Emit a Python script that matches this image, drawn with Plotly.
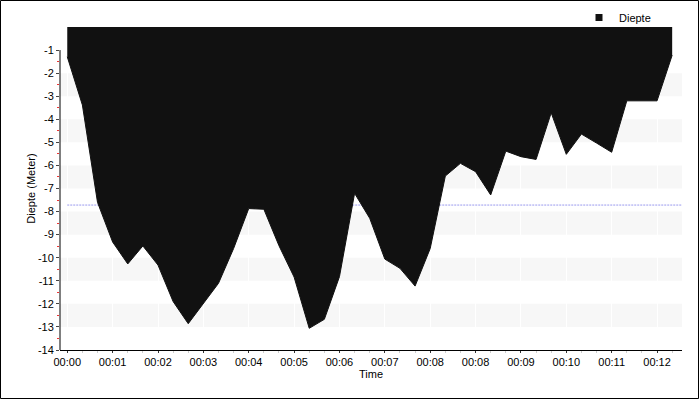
import numpy as np
import plotly.graph_objects as go

# ---- data ----
depth = [-1.29, -3.38, -7.6, -9.32, -10.27, -9.49, -10.32, -11.9, -12.86, -11.97,
         -11.11, -9.6, -7.87, -7.9, -9.48, -10.84, -13.06, -12.67, -10.82, -7.21,
         -8.29, -10.06, -10.46, -11.23, -9.6, -6.46, -5.91, -6.27, -7.28, -5.38,
         -5.62, -5.74, -3.72, -5.52, -4.64, -5.03, -5.43, -3.2, -3.2, -3.2, -1.22]
sample = list(range(len(depth)))
time_labels = ["00:00", "00:01", "00:02", "00:03", "00:04", "00:05", "00:06",
               "00:07", "00:08", "00:08", "00:09", "00:10", "00:11", "00:12"]
label_every = 3
y_ticks = list(range(-1, -15, -1))
stripe_tops = [-2, -4, -6, -8, -10, -12]

series_name = "Diepte"
x_title = "Time"
y_title = "Diepte (Meter)"

# ---- layout constants ----
W, H = 700, 400
ML, MR, MT, MB = 60, 18, 27, 50
x_range = [-0.48, 40.65]
y_range = [-14, 0]
FONT = "Liberation Sans, Arial, sans-serif"

mean_depth = float(np.mean(depth))

fig = go.Figure()

# mean line (drawn first, so the area covers it)
fig.add_trace(go.Scatter(
    x=[sample[0], x_range[1]], y=[mean_depth, mean_depth],
    mode="lines", line=dict(color="#9999ee", width=1, dash="2px,1px"),
    showlegend=False, hoverinfo="skip", cliponaxis=True))

# filled area
fig.add_trace(go.Scatter(
    x=sample, y=depth, mode="lines", fill="tozeroy",
    fillcolor="#111111", line=dict(color="#111111", width=1),
    showlegend=False, name=series_name))

# legend entry
fig.add_trace(go.Scatter(
    x=[None], y=[None], mode="markers", name=series_name,
    marker=dict(symbol="square", size=7, color="#111111")))

shapes = []
for t in stripe_tops:
    shapes.append(dict(type="rect", xref="paper", yref="y", x0=0, x1=1,
                       y0=t - 1, y1=t, fillcolor="#f7f7f7",
                       line=dict(width=0), layer="below"))
# y axis line only over the ticked span
shapes.append(dict(type="line", xref="paper", yref="y", x0=0, x1=0,
                   y0=min(y_ticks), y1=max(y_ticks),
                   line=dict(color="#000000", width=1)))
# outer border
pw, ph = W - ML - MR, H - MT - MB
shapes.append(dict(type="rect", xref="paper", yref="paper",
                   x0=(0.5 - ML) / pw, x1=(W - 1.5 - ML) / pw,
                   y0=(H - MB - (H - 1.5)) / ph, y1=(H - MB - 0.5) / ph,
                   line=dict(color="#000000", width=1), fillcolor="rgba(0,0,0,0)"))

fig.update_layout(
    width=W, height=H,
    margin=dict(l=ML, r=MR, t=MT, b=MB, pad=0, autoexpand=False),
    paper_bgcolor="white", plot_bgcolor="white",
    font=dict(family=FONT, size=11, color="#000000"),
    shapes=shapes,
    showlegend=True,
    legend=dict(xref="container", yref="container",
                x=579 / W, xanchor="left", y=1 - 3 / H, yanchor="top",
                bgcolor="rgba(0,0,0,0)", font=dict(size=11, family=FONT),
                itemwidth=30),
    xaxis=dict(
        range=x_range, showgrid=True, gridcolor="#ffffff", gridwidth=1,
        tickmode="array", tickvals=sample[::label_every], ticktext=time_labels,
        ticks="outside", ticklen=2, tickcolor="#333333",
        showline=True, linecolor="#000000", linewidth=1, zeroline=False,
        minor=dict(ticks="outside", ticklen=2, tickcolor="#cccccc",
                   tickmode="array", tickvals=sample, showgrid=False),
        title=dict(text=x_title, standoff=0, font=dict(size=11)),
        tickfont=dict(size=11), automargin=False,
    ),
    yaxis=dict(
        range=y_range, showgrid=False, zeroline=False, showline=False,
        tickmode="array", tickvals=y_ticks, ticktext=[str(v) for v in y_ticks],
        ticks="outside", ticklen=3, tickcolor="#444444",
        minor=dict(ticks="outside", ticklen=2, tickcolor="#ee3333",
                   tickmode="array", tickvals=[v - 0.5 for v in y_ticks[:-1]],
                   showgrid=False),
        title=dict(text=y_title, standoff=0, font=dict(size=11)),
        tickfont=dict(size=11), automargin=False,
    ),
)

post = ("document.documentElement.style.margin='0';"
        "document.body.style.margin='0';document.body.style.padding='0';"
        "document.body.style.overflow='hidden';"
        "var g=document.getElementById('{plot_id}');"
        "if(g){g.style.position='absolute';g.style.top='0px';g.style.left='0px';}")

fig.write_html("out.html", post_script=post,
               config={"displayModeBar": False, "staticPlot": True})
